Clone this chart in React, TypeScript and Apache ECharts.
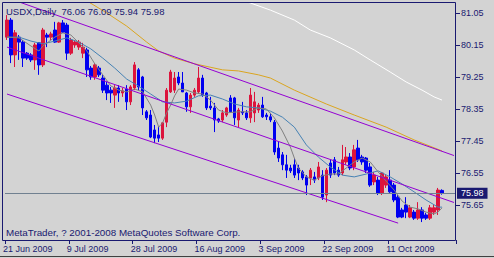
import React, { useEffect, useRef } from 'react';
import * as echarts from 'echarts';

// ---- OHLC (USDX daily) ----
const opens = [
  80.37, 80.85, 79.87, 80.37, 80.23, 79.92, 79.87, 79.73, 80.21, 79.59,
  80.43, 80.37, 80.57, 80.23, 80.77, 80.71, 79.92, 80.15, 80.09, 79.92,
  80.01, 79.50, 79.25, 79.50, 79.22, 79.02, 78.88, 78.74, 78.94, 78.80,
  78.91, 78.55, 78.94, 79.45, 79.25, 78.27, 78.18, 77.76, 77.62, 77.53,
  77.98, 78.83, 78.88, 79.25, 79.08, 78.80, 78.41, 78.74, 78.83, 79.22,
  78.80, 78.43, 78.38, 78.07, 78.04, 78.18, 78.66, 78.66, 78.04, 78.27,
  78.24, 78.10, 78.24, 78.32, 78.46, 78.18, 78.13, 77.98, 77.25, 77.06,
  76.78, 76.69, 76.78, 76.69, 76.58, 76.44, 76.41, 76.44, 76.41, 76.49,
  75.93, 76.83, 76.92, 76.63, 76.55, 76.86, 77.00, 76.72, 77.25, 77.00,
  76.97, 76.72, 76.30, 76.35, 75.99, 76.21, 76.35, 76.21, 75.87, 75.51,
  75.65, 75.31, 75.45, 75.28, 75.51, 75.37, 75.28, 75.45, 75.51, 76.06,
];
const highs = [
  80.99, 80.91, 80.57, 80.43, 80.29, 79.95, 79.92, 80.21, 80.23, 80.63,
  80.49, 80.52, 80.80, 80.80, 80.85, 80.77, 80.35, 80.29, 80.29, 80.21,
  80.07, 79.56, 79.64, 79.56, 79.31, 79.11, 78.97, 79.02, 79.02, 78.94,
  79.02, 79.02, 79.67, 79.50, 79.28, 78.32, 78.32, 77.90, 77.84, 77.98,
  78.94, 79.45, 79.39, 79.39, 79.39, 78.83, 78.80, 78.94, 79.53, 79.31,
  78.83, 78.69, 78.52, 78.10, 78.32, 78.41, 78.74, 78.69, 78.38, 78.55,
  78.32, 78.94, 78.83, 78.52, 78.69, 78.24, 78.24, 78.04, 77.42, 77.14,
  77.06, 76.78, 76.97, 76.78, 76.63, 76.49, 76.69, 76.58, 76.86, 76.63,
  76.69, 76.92, 77.00, 76.72, 77.34, 77.28, 77.11, 77.34, 77.48, 77.06,
  77.00, 76.83, 76.58, 76.44, 76.58, 76.49, 76.63, 76.27, 75.93, 75.57,
  75.87, 75.65, 75.51, 75.73, 75.59, 75.43, 75.65, 75.65, 76.13, 76.09,
];
const lows = [
  80.29, 79.64, 79.53, 79.73, 79.53, 79.73, 79.67, 79.45, 79.31, 79.53,
  80.09, 80.29, 80.21, 80.21, 80.49, 79.73, 79.87, 80.07, 80.01, 79.78,
  79.25, 79.17, 79.17, 79.25, 78.80, 78.60, 78.52, 78.38, 78.55, 78.69,
  78.32, 78.46, 78.88, 78.88, 78.18, 78.04, 77.53, 77.39, 77.42, 77.48,
  77.84, 78.80, 78.80, 79.02, 78.83, 78.27, 78.24, 78.69, 78.80, 78.69,
  78.32, 78.32, 77.70, 77.96, 77.98, 78.13, 78.24, 77.90, 77.84, 78.18,
  78.04, 77.96, 77.98, 78.24, 78.10, 78.04, 77.98, 77.06, 76.86, 76.63,
  76.41, 76.55, 76.41, 76.35, 76.35, 75.93, 76.21, 76.27, 76.35, 75.79,
  75.73, 76.41, 76.49, 76.44, 76.49, 76.78, 76.63, 76.63, 76.86, 76.78,
  76.55, 76.16, 76.21, 75.93, 75.93, 76.13, 75.99, 75.73, 75.28, 75.28,
  75.28, 75.28, 75.23, 75.23, 75.17, 75.23, 75.23, 75.37, 75.37, 75.94,
];
const closes = [
  80.85, 79.87, 80.49, 80.23, 79.78, 79.78, 79.73, 80.15, 79.59, 80.57,
  80.37, 80.46, 80.23, 80.77, 80.51, 79.92, 80.29, 80.23, 80.23, 80.09,
  79.45, 79.25, 79.59, 79.31, 78.88, 78.80, 78.80, 78.94, 78.80, 78.86,
  78.55, 78.97, 79.59, 78.97, 78.38, 78.10, 77.56, 77.53, 77.53, 77.96,
  78.88, 79.39, 79.22, 79.08, 78.83, 78.41, 78.74, 78.88, 79.22, 78.74,
  78.38, 78.38, 78.04, 78.01, 78.24, 78.38, 78.27, 78.10, 78.32, 78.24,
  78.10, 78.74, 78.55, 78.46, 78.13, 78.13, 78.04, 77.14, 76.97, 76.78,
  76.63, 76.61, 76.49, 76.55, 76.41, 76.21, 76.63, 76.35, 76.72, 75.87,
  76.63, 76.49, 76.55, 76.49, 76.92, 77.00, 76.69, 77.20, 76.92, 76.86,
  76.63, 76.21, 76.49, 75.99, 76.55, 76.44, 76.02, 75.79, 75.31, 75.31,
  75.45, 75.57, 75.28, 75.51, 75.28, 75.28, 75.57, 75.57, 76.07, 75.98,
];

// ---- moving averages: [bar index, price] ----
const maWhite = [
  [60, 81.37], [61, 81.33], [66, 81.13], [72, 80.85], [76, 80.57], [81, 80.35],
  [87, 80.01], [91, 79.73], [96, 79.39], [100, 79.11], [104, 78.88], [107, 78.69], [109, 78.6],
];
const maOrange = [
  [20, 81.39], [25, 81.05], [30, 80.68], [35, 80.23], [38, 79.98], [42, 79.78],
  [47, 79.62], [54, 79.45], [58, 79.42], [63, 79.31], [66, 79.22], [72, 78.88],
  [80, 78.49], [87, 78.18], [95, 77.84], [102, 77.48], [109, 77.17],
];
const maBlue = [
  [0, 80.37], [3, 80.37], [6, 80.26], [9, 80.18], [12, 80.26], [15, 80.35], [18, 80.23],
  [21, 80.04], [24, 79.78], [27, 79.5], [30, 79.19], [33, 78.99], [36, 78.77], [39, 78.55],
  [42, 78.52], [45, 78.57], [48, 78.72], [51, 78.74], [54, 78.63], [57, 78.49], [60, 78.41],
  [63, 78.38], [66, 78.29], [69, 78.12], [72, 77.84], [75, 77.34], [78, 77.0], [81, 76.72],
  [84, 76.49], [87, 76.44], [90, 76.52], [93, 76.61], [96, 76.44], [99, 76.24], [102, 76.02],
  [105, 75.79], [108, 75.59], [109, 75.59],
];
const maGray = [
  [0, 80.37], [3, 80.35], [6, 80.12], [8, 79.98], [9, 80.12], [12, 80.37], [14, 80.49],
  [16, 80.43], [18, 80.21], [20, 79.98], [22, 79.62], [24, 79.31], [26, 79.0], [28, 78.88],
  [30, 78.83], [32, 78.91], [34, 78.83], [36, 78.46], [37, 78.18], [38, 77.84], [39, 77.96],
  [40, 78.24], [41, 78.46], [42, 78.72], [43, 78.91], [45, 78.88], [47, 78.8], [49, 78.77],
  [51, 78.6], [53, 78.32], [55, 78.24], [58, 78.27], [61, 78.27], [63, 78.38], [65, 78.35],
  [67, 78.1], [69, 77.73], [71, 77.28], [72, 76.97], [73, 76.69], [75, 76.44], [77, 76.35],
  [79, 76.47], [81, 76.52], [83, 76.52], [85, 76.69], [87, 76.86], [89, 76.97], [91, 76.86],
  [93, 76.58], [95, 76.32], [97, 76.07], [99, 75.76], [101, 75.59], [103, 75.54], [105, 75.45],
  [107, 75.4], [108, 75.45], [109, 75.57],
];

// ---- channel lines (two anchor points each) ----
const channelUpper = [[0, 81.48], [112, 77.04]];
const channelMiddle = [[0, 80.09], [112, 75.72]];
const channelLower = [[0, 78.77], [98, 75.14]];

// ---- axes ----
const firstDay = [2009, 5, 21];
const slotCount = 113; // 110 bars + chart shift
const dateLabelEvery = 16;
const priceMin = 74.75;
const priceMax = 81.33;
const priceStep = 0.9;
const priceLabelShift = 0.05;
const months = ['Jan', 'Feb', 'Mar', 'Apr', 'May', 'Jun', 'Jul', 'Aug', 'Sep', 'Oct', 'Nov', 'Dec'];

const categories: string[] = [];
{
  let t = Date.UTC(firstDay[0], firstDay[1], firstDay[2]);
  while (categories.length < slotCount) {
    const d = new Date(t);
    if (d.getUTCDay() !== 6) {
      categories.push(`${d.getUTCDate()} ${months[d.getUTCMonth()]} ${d.getUTCFullYear()}`);
    }
    t += 86400000;
  }
}

const NAVY = '#191970';
const BG = '#d3d3d3';
const FONT = '"Liberation Sans", Arial, sans-serif';
const BULL = '#dc143c';
const BEAR = '#0000f0';
const VIOLET = '#9400d3';

export default function App() {
  const ref = useRef<HTMLDivElement>(null);
  useEffect(() => {
    if (!ref.current) return;
    const chart = echarts.init(ref.current, undefined, { renderer: 'svg' });
    const last = closes.length - 1;
    const header = `USDX,Daily\u00a0 ${opens[last].toFixed(2)} ${highs[last].toFixed(2)} ${lows[last].toFixed(2)} ${closes[last].toFixed(2)}`;
    const showDate = (index: number) => index % dateLabelEvery === 0 && index < opens.length;
    const lineSeries = (data: number[][], color: string, z: number) => ({
      type: 'line',
      data,
      yAxisIndex: 0,
      showSymbol: false,
      symbol: 'none',
      connectNulls: true,
      silent: true,
      z,
      lineStyle: { color, width: 1 },
      emphasis: { disabled: true },
    });
    chart.setOption({
      animation: false,
      backgroundColor: BG,
      grid: { left: 4, top: 3, width: 452, height: 234 },
      xAxis: {
        type: 'category',
        data: categories,
        boundaryGap: true,
        offset: 3,
        axisLine: { show: false },
        axisTick: { show: true, interval: showDate, length: 4, lineStyle: { color: NAVY } },
        axisLabel: {
          interval: showDate,
          color: NAVY,
          fontFamily: FONT,
          fontSize: 9,
          align: 'left',
          margin: 4,
          padding: [0, 0, 0, -4],
        },
        splitLine: { show: false },
      },
      yAxis: [
        { type: 'value', min: priceMin, max: priceMax, show: false },
        {
          type: 'value',
          position: 'right',
          min: priceMin - priceLabelShift,
          max: priceMax - priceLabelShift,
          interval: priceStep,
          axisLine: { show: false },
          axisTick: { show: true, length: 4, lineStyle: { color: NAVY } },
          axisLabel: {
            color: NAVY,
            fontFamily: FONT,
            fontSize: 9,
            margin: 5,
            showMinLabel: false,
            showMaxLabel: false,
            formatter: (v: number) => (v + priceLabelShift).toFixed(2),
          },
          splitLine: { show: false },
        },
      ],
      series: [
        {
          type: 'candlestick',
          yAxisIndex: 0,
          data: opens.map((o, i) => [o, closes[i], lows[i], highs[i]]),
          barWidth: 3,
          silent: true,
          z: 2,
          itemStyle: { color: BULL, color0: BEAR, borderColor: BULL, borderColor0: BEAR, borderWidth: 1 },
          markLine: {
            symbol: ['none', 'none'],
            silent: true,
            data: [{ yAxis: closes[last] }],
            lineStyle: { color: '#708090', width: 1, type: 'solid' },
            label: {
              position: 'end',
              formatter: closes[last].toFixed(2),
              backgroundColor: NAVY,
              color: '#ffffff',
              fontFamily: FONT,
              fontSize: 9,
              padding: [1, 4, 1, 4],
              distance: 1,
            },
          },
        },
        lineSeries(maWhite, '#ffffff', 3),
        lineSeries(maOrange, '#daa520', 3),
        lineSeries(maBlue, '#4682b4', 3),
        lineSeries(maGray, '#808080', 3),
        lineSeries(channelUpper, VIOLET, 4),
        lineSeries(channelMiddle, VIOLET, 4),
        lineSeries(channelLower, VIOLET, 4),
      ],
      graphic: [
        {
          type: 'rect',
          z: 10,
          silent: true,
          shape: { x: 2.5, y: 2.5, width: 453, height: 238 },
          style: { fill: 'none', stroke: NAVY, lineWidth: 1 },
        },
        {
          type: 'line',
          z: 10,
          silent: true,
          shape: { x1: 0, y1: 256.5, x2: 494, y2: 256.5 },
          style: { stroke: '#404040', lineWidth: 1 },
        },
        {
          type: 'text',
          z: 10,
          silent: true,
          x: 6,
          y: 11,
          style: { text: header, fill: NAVY, font: `9.5px ${FONT}`, textVerticalAlign: 'middle' },
        },
        {
          type: 'text',
          z: 10,
          silent: true,
          x: 6,
          y: 232,
          style: {
            text: 'MetaTrader, ? 2001-2008 MetaQuotes Software Corp.',
            fill: NAVY,
            font: `9.8px ${FONT}`,
            textVerticalAlign: 'middle',
          },
        },
      ],
    });
    return () => chart.dispose();
  }, []);
  return (
    <div
      ref={ref}
      style={{ position: 'absolute', left: 0, top: 0, width: 494, height: 258, background: BG }}
    />
  );
}
